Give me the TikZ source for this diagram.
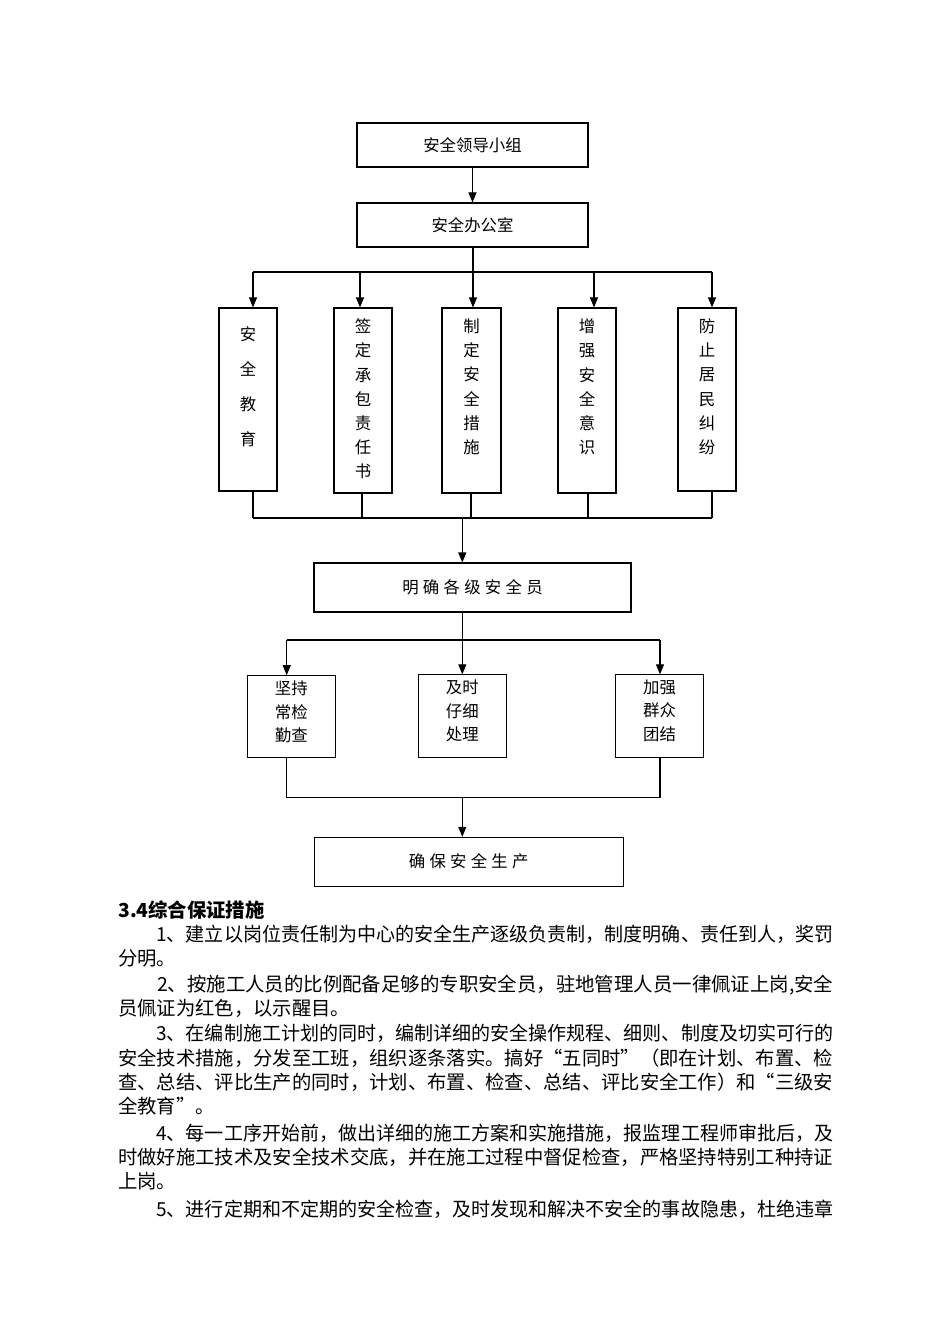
\documentclass[tikz,border=0pt]{standalone}
\usepackage{graphicx}
\usepackage{fontspec}
\setmainfont{Noto Sans CJK SC}
\newfontfamily\cjk{Noto Sans CJK SC}
\usetikzlibrary{arrows.meta}
\newcommand\chartfont{\cjk\fontsize{12.3}{18.15}\selectfont}
\newcommand\bodyfont{\cjk\fontsize{14.5}{18}\selectfont}
\newcommand\lsp{\hspace{3.2pt}}
\newcommand\fullline[1]{\resizebox{536.25pt}{\height}{#1}}
\tikzset{
  box/.style={draw, line width=0.8pt, inner sep=0pt, font=\chartfont, align=center},
  arr/.style={line width=0.8pt, -{Triangle[length=7.5pt,width=6pt]}},
  ln/.style={line width=0.8pt},
  para/.style={anchor=base west, inner sep=0pt, font=\bodyfont},
}
\begin{document}
\begin{tikzpicture}[x=0.75pt,y=-0.75pt]
\useasboundingbox (0,0) rectangle (950,1344);
% top boxes
\node[box, minimum width=173.25pt, minimum height=33pt] (lead) at (472.5,145) {安全领导小组};
\node[box, minimum width=173.25pt, minimum height=33pt] (office) at (472.5,225) {安全办公室};
% five tall boxes
\node[box] (e1) at (248,399.5) {\parbox[c][137.25pt][t]{43.5pt}{\centering\fontsize{12.3}{26.25}\selectfont\vspace*{14.1pt}安\\全\\教\\育}};
\node[box] (e2) at (363,400.5) {\parbox[c][138.75pt][t]{43.5pt}{\centering\vspace*{8.1pt}签\\定\\承\\包\\责\\任\\书}};
\node[box] (e3) at (471.5,400.5) {\parbox[c][138.75pt][t]{44.25pt}{\centering\vspace*{8.1pt}制\\定\\安\\全\\措\\施}};
\node[box] (e4) at (587,400.5) {\parbox[c][138.75pt][t]{43.5pt}{\centering\vspace*{8.1pt}增\\强\\安\\全\\意\\识}};
\node[box] (e5) at (707,399.5) {\parbox[c][137.25pt][t]{43.5pt}{\centering\vspace*{8.1pt}防\\止\\居\\民\\纠\\纷}};
% middle box
\node[box, minimum width=237.75pt, minimum height=36.75pt] (staff) at (472.5,587.5) {明\lsp 确\lsp 各\lsp 级\lsp 安\lsp 全\lsp 员};
% three small boxes
\node[box] (a1) at (291.3,716.7) {\parbox[c][61.5pt][t]{66pt}{\centering\fontsize{12.3}{17.6}\selectfont\vspace*{3.8pt}坚持\\常检\\勤查}};
\node[box] (a2) at (462.3,716.0) {\parbox[c][61.7pt][t]{66pt}{\centering\fontsize{12.3}{17.6}\selectfont\vspace*{3.8pt}及时\\仔细\\处理}};
\node[box] (a3) at (659.5,716.0) {\parbox[c][61.7pt][t]{65.7pt}{\centering\fontsize{12.3}{17.6}\selectfont\vspace*{3.8pt}加强\\群众\\团结}};
% final box
\node[box, minimum width=232pt, minimum height=36.5pt] (safe) at (468.7,861.7) {确\lsp 保\lsp 安\lsp 全\lsp 生\lsp 产};
% connectors
\draw[arr] (lead.south) -- (office.south |- office.north) ;
\coordinate (t0) at (473,272);
\coordinate (t1) at (253,272);
\coordinate (t2) at (360,272);
\coordinate (t3) at (473,272);
\coordinate (t4) at (594,272);
\coordinate (t5) at (712,272);
\draw[ln] (t0 |- office.south) -- (t0);
\draw[ln] (t1) -- (t5);
\draw[arr] (t1) -- (t1 |- e1.north);
\draw[arr] (t2) -- (t2 |- e2.north);
\draw[arr] (t3) -- (t3 |- e3.north);
\draw[arr] (t4) -- (t4 |- e4.north);
\draw[arr] (t5) -- (t5 |- e5.north);
\coordinate (b1) at (253,518);
\coordinate (b2) at (362,518);
\coordinate (b3) at (471,518);
\coordinate (b4) at (588,518);
\coordinate (b5) at (712,518);
\coordinate (b0) at (462.3,518);
\draw[ln] (b1 |- e1.south) -- (b1);
\draw[ln] (b2 |- e2.south) -- (b2);
\draw[ln] (b3 |- e3.south) -- (b3);
\draw[ln] (b4 |- e4.south) -- (b4);
\draw[ln] (b5 |- e5.south) -- (b5);
\draw[ln] (b1) -- (b5);
\draw[arr] (b0) -- (b0 |- staff.north);
\coordinate (m0) at (462.3,640);
\coordinate (m1) at (286.7,640);
\coordinate (m3) at (660,640);
\draw[ln] (m0 |- staff.south) -- (m0);
\draw[ln] (m1) -- (m3);
\draw[arr] (m1) -- (m1 |- a1.north);
\draw[arr] (m0) -- (m0 |- a2.north);
\draw[arr] (m3) -- (m3 |- a3.north);
\coordinate (n1) at (286.7,797.7);
\coordinate (n3) at (660,797.7);
\coordinate (n0) at (462.3,797.7);
\draw[ln] (n1 |- a1.south) -- (n1) -- (n3) -- (n3 |- a3.south);
\draw[arr] (n0) -- (n0 |- safe.north);
% body text
\node[para, font=\bodyfont\bfseries] (h) at (118,917) {3.4综合保证措施};
\node[para] (l1) at (118,941) {\fullline{\hspace*{2em}1、建立以岗位责任制为中心的安全生产逐级负责制，制度明确、责任到人，奖罚}};
\node[para] (l2) at (118,965) {分明。};
\node[para] (l3) at (118,991) {\fullline{\hspace*{2em}2、按施工人员的比例配备足够的专职安全员，驻地管理人员一律佩证上岗,安全}};
\node[para] (l4) at (118,1015) {员佩证为红色，以示醒目。};
\node[para] (l5) at (118,1040) {\fullline{\hspace*{2em}3、在编制施工计划的同时，编制详细的安全操作规程、细则、制度及切实可行的}};
\node[para] (l6) at (118,1065) {\fullline{安全技术措施，分发至工班，组织逐条落实。搞好“五同时”（即在计划、布置、检}};
\node[para] (l7) at (118,1089) {\fullline{查、总结、评比生产的同时，计划、布置、检查、总结、评比安全工作）和“三级安}};
\node[para] (l8) at (118,1113) {全教育”。};
\node[para] (l9) at (118,1140) {\fullline{\hspace*{2em}4、每一工序开始前，做出详细的施工方案和实施措施，报监理工程师审批后，及}};
\node[para] (l10) at (118,1164) {\fullline{时做好施工技术及安全技术交底，并在施工过程中督促检查，严格坚持特别工种持证}};
\node[para] (l11) at (118,1188) {上岗。};
\node[para] (l12) at (118,1216) {\fullline{\hspace*{2em}5、进行定期和不定期的安全检查，及时发现和解决不安全的事故隐患，杜绝违章}};
\end{tikzpicture}
\end{document}
